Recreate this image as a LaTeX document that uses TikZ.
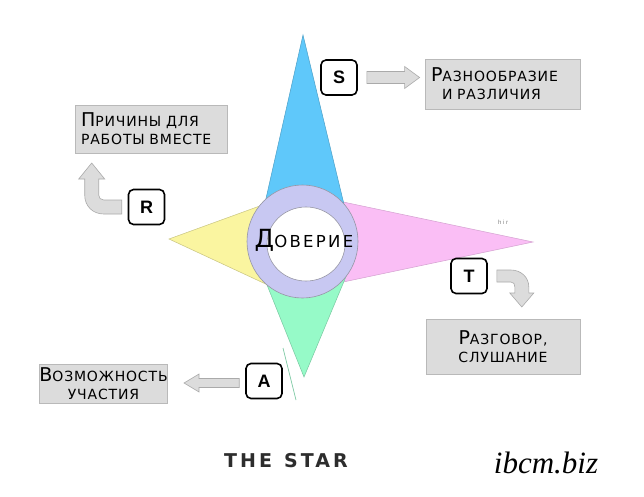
\documentclass[tikz,border=0pt]{standalone}
\usepackage{fontspec}
\setmainfont{Liberation Sans}
\newfontfamily\handfont[LetterSpace=6]{DejaVu Sans}
\newfontfamily\trustfont[LetterSpace=14]{DejaVu Sans}
\newfontfamily\starfont[LetterSpace=16]{DejaVu Sans}
\newfontfamily\keyfont{Liberation Sans}
\newfontfamily\sitefont{Liberation Serif}
\usetikzlibrary{calc}
\definecolor{cblue}{RGB}{95,200,250}
\definecolor{cyellow}{RGB}{250,245,160}
\definecolor{cpink}{RGB}{250,190,245}
\definecolor{cgreen}{RGB}{150,250,200}
\definecolor{cring}{RGB}{200,200,242}
\definecolor{ringedge}{RGB}{150,150,165}
\definecolor{boxgray}{RGB}{220,220,220}
\definecolor{boxedge}{RGB}{185,185,185}
\definecolor{arrowedge}{RGB}{170,170,170}
\definecolor{startext}{RGB}{45,45,45}
\newcommand{\capfirst}[1]{{\fontsize{19}{19}\selectfont #1}}
\newcommand{\capsmall}[1]{{\fontsize{14}{18}\selectfont #1}}
\begin{document}
\begin{tikzpicture}[x=1pt,y=-1pt,
  labelbox/.style={draw=boxedge, fill=boxgray, line width=0.8pt, inner sep=0pt,
    font=\handfont\fontsize{14}{18}\selectfont},
  keybox/.style={draw=black, fill=white, line width=1.6pt, rounded corners=5pt,
    minimum width=36pt, minimum height=35pt, inner sep=0pt,
    font=\keyfont\bfseries\fontsize{18}{18}\selectfont},
  blockarrow/.style={fill=boxgray, draw=arrowedge, line width=0.6pt},
  tri/.style={line width=0.5pt}]
\useasboundingbox (0,0) rectangle (644,497);
\fill[white] (0,0) rectangle (644,497);

% star
\filldraw[tri, fill=cyellow, draw=cyellow!80!black] (169,239) -- (290,195) -- (285,293) -- cycle;
\filldraw[tri, fill=cpink, draw=cpink!85!black] (533,242) -- (310,195) -- (310,289) -- cycle;
\filldraw[tri, fill=cgreen, draw=cgreen!80!black] (304,377) -- (355,255) -- (255,255) -- cycle;
\filldraw[tri, fill=cblue, draw=cblue!80!black] (303,35) -- (349,225) -- (260,225) -- cycle;
\draw[cgreen!80!black, line width=0.7pt] (283,348) -- (296,400);

% ring
\filldraw[fill=cring, draw=ringedge, line width=0.6pt] (302.5,241.5) ellipse [x radius=55.5, y radius=56.5];
\filldraw[fill=white, draw=ringedge, line width=0.6pt] (306,244) ellipse [x radius=39, y radius=37];
\node[font=\trustfont, inner sep=0pt] (trust) at (304,240)
  {{\fontsize{25}{25}\selectfont Д}{\fontsize{16.5}{16.5}\selectfont ОВЕРИЕ}};
\node[text=gray, font=\fontsize{6}{6}\selectfont, inner sep=0pt] (hir) at (503,222) {h i r};

% key boxes
\node[keybox] (S) at (339,77.5) {S};
\node[keybox] (R) at (146.5,207) {R};
\node[keybox] (T) at (469,276) {T};
\node[keybox] (A) at (264,381) {A};

% label boxes
\node[labelbox, minimum width=155pt, minimum height=50pt, text width=143pt, align=left] (div) at (502.5,84)
  {\capfirst{Р}\capsmall{АЗНООБРАЗИЕ}\\\hspace*{11pt}\capsmall{И РАЗЛИЧИЯ}};
\node[labelbox, minimum width=152pt, minimum height=48pt, text width=140pt, align=left] (why) at (151,129)
  {\capfirst{П}\capsmall{РИЧИНЫ ДЛЯ}\\\capsmall{РАБОТЫ ВМЕСТЕ}};
\node[labelbox, minimum width=154pt, minimum height=55pt, align=center] (talk) at (503,346.5)
  {\capfirst{Р}\capsmall{АЗГОВОР,}\\\capsmall{СЛУШАНИЕ}};
\node[labelbox, minimum width=125pt, minimum height=39pt, align=center] (part) at (103.5,383.5)
  {\capfirst{В}\capsmall{ОЗМОЖНОСТЬ}\\\capsmall{УЧАСТИЯ}};

% arrows
\coordinate (sa) at ($(S.east)+(9,0)$);
\coordinate (sb) at ($(div.west |- sa)+(-5,0)$);
\draw[blockarrow] ($(sa)+(0,-6)$) -- ($(sb)+(-15,-6)$) -- ($(sb)+(-15,-11)$) -- (sb)
  -- ($(sb)+(-15,11)$) -- ($(sb)+(-15,6)$) -- ($(sa)+(0,6)$) -- cycle;

\coordinate (aa) at ($(A.west)+(-6,2)$);
\coordinate (ab) at ($(part.east |- aa)+(16,0)$);
\draw[blockarrow] ($(aa)+(0,-4.5)$) -- ($(ab)+(15,-4.5)$) -- ($(ab)+(15,-9)$) -- (ab)
  -- ($(ab)+(15,9)$) -- ($(ab)+(15,4.5)$) -- ($(aa)+(0,4.5)$) -- cycle;

\coordinate (ra) at ($(R.west)+(-6,0)$);
\begin{scope}[shift={(ra)}]
\draw[blockarrow] (0,-7) -- (-18,-7) .. controls (-21,-7) and (-23,-9) .. (-23,-12)
  -- (-23,-28) -- (-17,-28) -- (-30,-44) -- (-43,-28) -- (-37,-28) -- (-37,-12)
  .. controls (-37,-1) and (-29,7) .. (-18,7) -- (0,7) -- cycle;
\end{scope}

\coordinate (ta) at ($(T.east)+(9,0)$);
\begin{scope}[shift={(ta)}]
\draw[blockarrow] (0,-6) -- (14,-6) .. controls (24,-6) and (32,1) .. (32,11)
  -- (32,17) -- (37,17) -- (25,31) -- (13,17) -- (18,17) -- (18,11)
  .. controls (18,8) and (17,6) .. (14,6) -- (0,6) -- cycle;
\end{scope}

% captions
\node[font=\starfont\bfseries\fontsize{19}{19}\selectfont, text=startext, inner sep=0pt] (title) at (286,461) {THE\hspace{12pt}STAR};
\node[font=\sitefont\itshape\fontsize{31}{31}\selectfont, inner sep=0pt] (site) at (546,463) {ibcm.biz};
\end{tikzpicture}
\end{document}
